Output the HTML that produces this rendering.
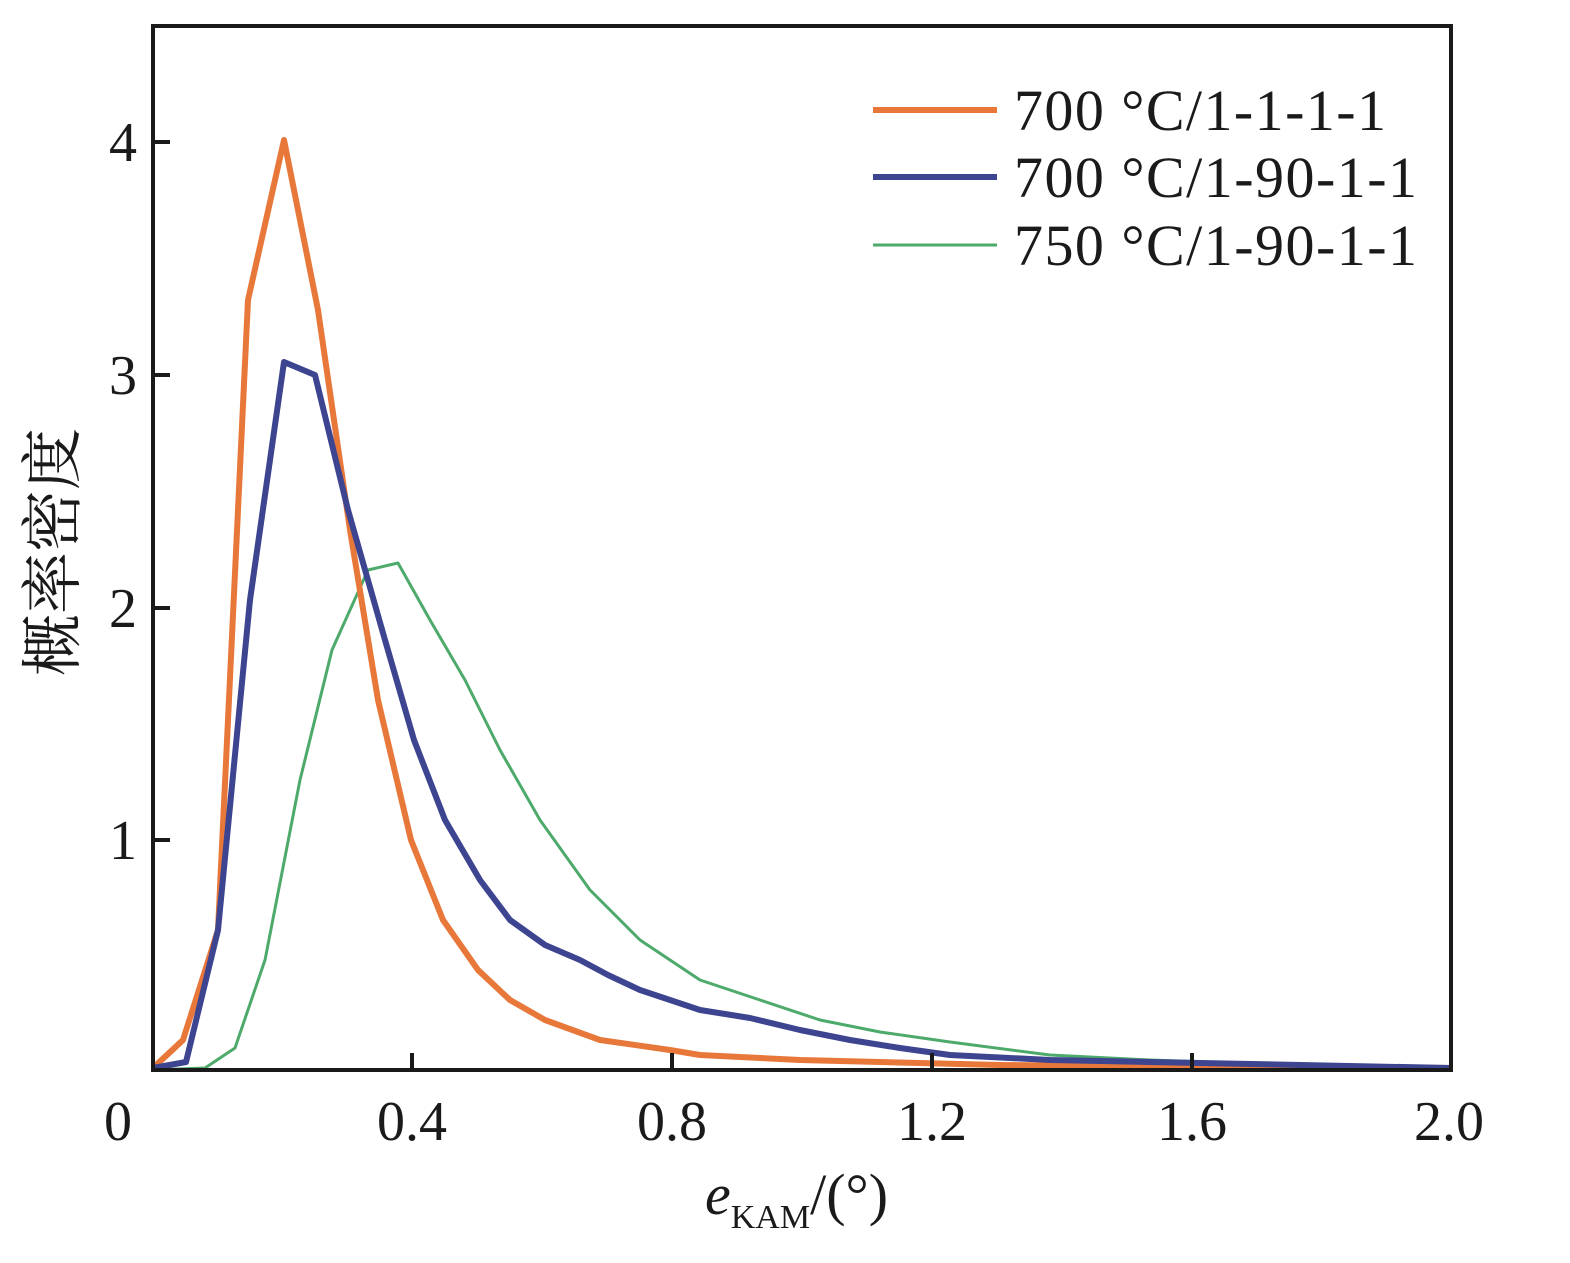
<!DOCTYPE html>
<html><head><meta charset="utf-8"><style>
html,body{margin:0;padding:0;background:#fff;}
svg{display:block;}
text{font-family:"Liberation Serif","Noto Serif CJK SC",serif;fill:#1a1a1a;}
</style></head><body>
<svg width="1570" height="1263" viewBox="0 0 1570 1263" xmlns="http://www.w3.org/2000/svg">
<rect x="0" y="0" width="1570" height="1263" fill="#fff"/>
<polyline fill="none" stroke="#4daa6b" stroke-width="3" stroke-linejoin="round" points="153,1070 205,1068 235,1048 265,960 300,780 332,650 368,570 398,563 430,620 465,680 500,750 540,820 590,890 640,940 700,980 760,1000 820,1020 880,1032 950,1042 1050,1055 1150,1060 1300,1065 1451,1068"/>
<polyline fill="none" stroke="#e8773a" stroke-width="6" stroke-linejoin="round" points="153,1068 183,1040 218,930 248,300 284,140 318,310 350,530 378,700 411,840 443,920 478,970 510,1000 545,1020 600,1040 670,1050 700,1055 800,1060 1000,1065 1451,1068"/>
<polyline fill="none" stroke="#3d4490" stroke-width="6" stroke-linejoin="round" points="153,1068 186,1062 218,930 250,600 284,362 315,375 348,510 385,640 414,740 445,820 480,880 510,920 545,945 580,960 608,975 640,990 700,1010 750,1018 800,1030 850,1040 900,1048 950,1055 1050,1060 1200,1063 1451,1068"/>
<rect x="153" y="26" width="1298" height="1044" fill="none" stroke="#1a1a1a" stroke-width="4"/>
<g stroke="#1a1a1a" stroke-width="4">
<line x1="153" y1="142" x2="170" y2="142"/><line x1="153" y1="375" x2="170" y2="375"/>
<line x1="153" y1="608" x2="170" y2="608"/><line x1="153" y1="840" x2="170" y2="840"/>
<line x1="412" y1="1070" x2="412" y2="1053"/><line x1="672" y1="1070" x2="672" y2="1053"/>
<line x1="932" y1="1070" x2="932" y2="1053"/><line x1="1192" y1="1070" x2="1192" y2="1053"/>
</g>
<g font-size="56" text-anchor="end">
<text x="137" y="161">4</text><text x="137" y="394">3</text><text x="137" y="627">2</text><text x="137" y="859">1</text>
</g>
<g font-size="56" text-anchor="middle">
<text x="118" y="1140">0</text><text x="412" y="1140">0.4</text><text x="672" y="1140">0.8</text>
<text x="932" y="1140">1.2</text><text x="1192" y="1140">1.6</text><text x="1449" y="1140">2.0</text>
</g>
<text x="705" y="1214" font-size="58"><tspan font-style="italic">e</tspan><tspan font-size="34" dy="14">KAM</tspan><tspan dy="-14">/(°)</tspan></text>
<text transform="translate(74,552) rotate(-90)" font-size="62" text-anchor="middle" font-family="'Noto Serif CJK SC','Noto Sans CJK SC',serif">概率密度</text>
<line x1="873" y1="110" x2="997" y2="110" stroke="#e8773a" stroke-width="6"/>
<line x1="873" y1="177" x2="997" y2="177" stroke="#3d4490" stroke-width="6"/>
<line x1="873" y1="245" x2="997" y2="245" stroke="#4daa6b" stroke-width="3"/>
<g font-size="58">
<text x="1014" y="130" textLength="372">700 °C/1-1-1-1</text>
<text x="1014" y="197" textLength="403">700 °C/1-90-1-1</text>
<text x="1014" y="265" textLength="403">750 °C/1-90-1-1</text>
</g>
</svg>
</body></html>
